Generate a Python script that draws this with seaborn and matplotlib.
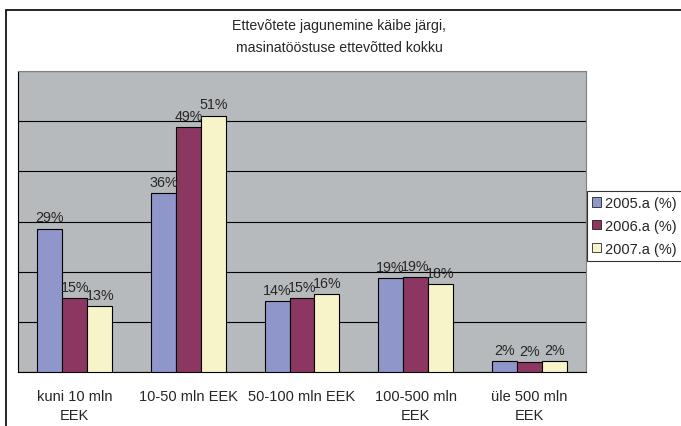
import pandas as pd
import matplotlib.pyplot as plt
import seaborn as sns
from matplotlib.patches import Rectangle

# Data
categories = ['kuni 10 mln\nEEK', '10-50 mln EEK', '50-100 mln EEK', '100-500 mln\nEEK', 'üle 500 mln\nEEK']
years = ['2005.a (%)', '2006.a (%)', '2007.a (%)']
v2005 = [28.6, 35.6, 14.1, 18.7, 2.2]
v2006 = [14.7, 48.9, 14.8, 19.0, 1.9]
v2007 = [13.1, 51.1, 15.5, 17.6, 2.1]
colors = ['#8E96CA', '#8C3762', '#F7F4CA']

df = pd.DataFrame({
    'cat': categories * 3,
    'val': v2005 + v2006 + v2007,
    'year': [y for y in years for _ in categories],
})

sns.set_style('white')
plt.rcParams['font.family'] = ['Liberation Sans', 'DejaVu Sans']

fig = plt.figure(figsize=(6.81, 4.27), dpi=100)
ax = fig.add_axes([18 / 681, 1 - 373 / 427, 568 / 681, 301 / 427])
ax.set_facecolor('#B7BABC')

sns.barplot(data=df, x='cat', y='val', hue='year', palette=colors, saturation=1,
            edgecolor='black', linewidth=0.8, width=0.66, ax=ax, zorder=3)

for cont in ax.containers:
    ax.bar_label(cont, fmt='%.0f%%', padding=3, fontsize=10.3)

ax.set_ylim(0, 60)
ax.set_yticks(range(0, 61, 10))
ax.set_yticklabels([])
ax.tick_params(axis='y', length=0)
ax.yaxis.grid(True, color='black', linewidth=0.8)
ax.set_axisbelow(True)

ax.set_xlim(-0.5, 4.5)
ax.set_xticks([i - 0.5 for i in range(6)], minor=True)
ax.tick_params(axis='x', which='minor', length=5, width=0.8, color='black', direction='out')
ax.tick_params(axis='x', which='major', length=0, pad=12, labelsize=10.5)
for t in ax.get_xticklabels():
    t.set_linespacing(1.45)
ax.set_xlabel('')
ax.set_ylabel('')

for s in ['top', 'right']:
    ax.spines[s].set_color('#808080')
for s in ['left', 'bottom']:
    ax.spines[s].set_color('black')
for s in ax.spines.values():
    s.set_linewidth(0.8)

leg = ax.legend(loc='upper left', bbox_to_anchor=(587 / 681, 1 - 192 / 427),
                bbox_transform=fig.transFigure, frameon=True, fancybox=False,
                fontsize=10.5, handlelength=0.6, handleheight=0.6, handletextpad=0.3,
                borderpad=0.35, labelspacing=0.6, borderaxespad=0)
leg.get_frame().set_edgecolor('black')
leg.get_frame().set_linewidth(0.8)
for h in leg.legend_handles:
    h.set_edgecolor('black')
    h.set_linewidth(0.5)

fig.text(339 / 681, 1 - 37 / 427,
         'Ettevõtete jagunemine käibe järgi,\nmasinatööstuse ettevõtted kokku',
         ha='center', va='center', fontsize=10.2, linespacing=1.7)

# Outer chart frame (partly cut off at the right and bottom)
fig.patches.append(Rectangle((6 / 681, -0.1), 1.2, 1.1 - 11 / 427, transform=fig.transFigure,
                             fill=False, edgecolor='black', linewidth=1.2))

fig.savefig('out.png', dpi=100)
